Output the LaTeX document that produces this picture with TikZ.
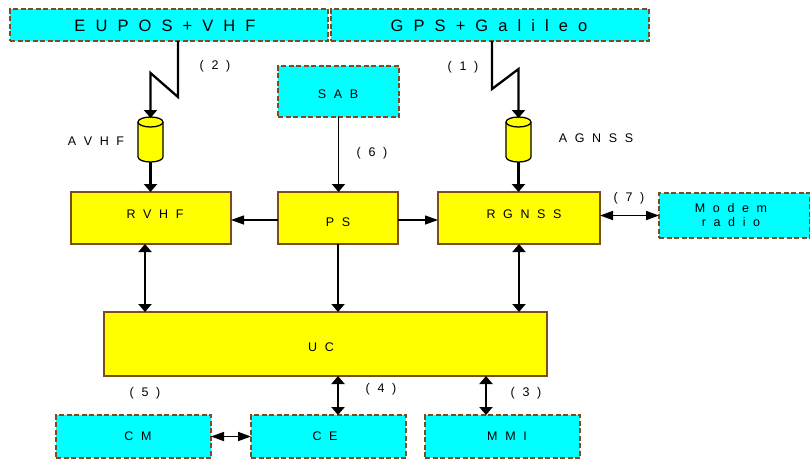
\documentclass[tikz,border=0pt]{standalone}
\usepackage{fontspec}
\setmainfont[WordSpace=2.2]{Liberation Sans}
\usetikzlibrary{arrows.meta}
\definecolor{boxedge}{RGB}{127,74,30}
\definecolor{unityellow}{RGB}{255,255,0}
\definecolor{extcyan}{RGB}{0,255,255}
\newcommand{\lbl}[3]{\raisebox{#2}[0pt][0pt]{\makebox[0pt]{\hspace*{#1}#3}}}
\newcommand{\drawcan}[1]{%
  \draw[canline,fill=unityellow] ([yshift=-5pt]#1.north west) -- ([yshift=5pt]#1.south west)
    arc[start angle=180,end angle=360,x radius=12.5pt,y radius=5pt]
    -- ([yshift=-5pt]#1.north east)
    arc[start angle=0,end angle=180,x radius=12.5pt,y radius=5pt] -- cycle;
  \draw[canline] ([yshift=-5pt]#1.north west)
    arc[start angle=180,end angle=360,x radius=12.5pt,y radius=5pt];
}
\tikzset{
  smalltxt/.style={font=\fontsize{12.5}{15}\selectfont},
  bigtxt/.style={font=\fontsize{16.5}{19}\selectfont},
  unitbox/.style={rectangle,draw=boxedge,line width=1.4pt,fill=unityellow,outer sep=0pt,inner sep=0pt,smalltxt},
  extbox/.style={rectangle,draw=boxedge,line width=1.4pt,dash pattern=on 5pt off 2.5pt,fill=extcyan,outer sep=0pt,inner sep=0pt,smalltxt},
  antenna/.style={rectangle,minimum width=25pt,minimum height=45pt,inner sep=0pt,outer sep=0pt},
  canline/.style={draw=black,line width=1.3pt,line join=round},
  heavy/.style={line width=2.3pt,-{Triangle[length=8pt,width=13pt]}},
  heavyboth/.style={line width=2.3pt,{Triangle[length=8pt,width=13pt]}-{Triangle[length=8pt,width=13pt]}},
  thinarrow/.style={line width=1.7pt,-{Triangle[length=8pt,width=13pt]}},
  sidearrow/.style={line width=1.3pt,-{Triangle[length=13pt,width=9pt]}},
  sideboth/.style={line width=1.7pt,{Triangle[length=13pt,width=9pt]}-{Triangle[length=13pt,width=9pt]}}
}
\begin{document}
\begin{tikzpicture}[x=1pt,y=-1pt,line width=1pt]
\useasboundingbox (0,0) rectangle (810,459);
\node[extbox,bigtxt,minimum width=318pt,minimum height=32pt] (eupos) at (169,25) {\lbl{-8pt}{-6pt}{E U P O S + V H F}};
\node[extbox,bigtxt,minimum width=318pt,minimum height=32pt] (gps) at (490,25) {\lbl{-2pt}{-6pt}{G P S + G a l i l e o}};
\node[extbox,minimum width=121pt,minimum height=51pt] (sab) at (338.5,91.5) {\lbl{-1pt}{-7pt}{S A B}};
\node[unitbox,minimum width=160pt,minimum height=52pt] (rvhf) at (151,218) {\lbl{8pt}{0pt}{R V H F}};
\node[unitbox,minimum width=120pt,minimum height=52pt] (ps) at (338,218) {\lbl{0pt}{-8pt}{P S}};
\node[unitbox,minimum width=162pt,minimum height=52pt] (rgnss) at (519,218) {\lbl{10pt}{0pt}{R G N S S}};
\node[extbox,minimum width=151pt,minimum height=45pt] (modem) at (734.5,215.5) {\lbl{-7pt}{-11pt}{\shortstack{M o d e m\\[2pt]r a d i o}}};
\node[unitbox,minimum width=443pt,minimum height=64pt] (uc) at (325.5,344) {\lbl{-9pt}{-7pt}{U C}};
\node[extbox,minimum width=155pt,minimum height=43pt] (cm) at (133.5,436.5) {\lbl{9pt}{-4pt}{C M}};
\node[extbox,minimum width=155pt,minimum height=43pt] (ce) at (328.5,436.5) {\lbl{-7pt}{-4pt}{C E}};
\node[extbox,minimum width=155pt,minimum height=43pt] (mmi) at (502.5,436.5) {\lbl{9pt}{-4pt}{M M I}};
\node[antenna] (avhf) at (150.5,139.5) {};
\node[antenna] (agnss) at (518.5,139.5) {};
\drawcan{avhf}
\drawcan{agnss}
\node[smalltxt] (n2) at (215,66) {( 2 )};
\node[smalltxt] (n6) at (372,153) {( 6 )};
\node[smalltxt] (n1) at (463,67) {( 1 )};
\node[smalltxt] (n7) at (629,198) {( 7 )};
\node[smalltxt] (n5) at (145,393) {( 5 )};
\node[smalltxt] (n4) at (381,389) {( 4 )};
\node[smalltxt] (n3) at (526,393) {( 3 )};
\node[smalltxt] (avhflabel) at (96,141) {A V H F};
\node[smalltxt] (agnsslabel) at (596,138) {A G N S S};
\coordinate (zig2a) at (178,97);
\coordinate (zig2b) at (150.5,73);
\coordinate (zig1a) at (492,89);
\coordinate (zig1b) at (518.5,69);
\draw[heavy] (zig2a |- eupos.south) -- (zig2a) -- (zig2b) -- ([yshift=-1pt]avhf.north);
\draw[heavy] (zig1a |- gps.south) -- (zig1a) -- (zig1b) -- ([yshift=-1pt]agnss.north);
\draw[heavy] (avhf.south) -- (avhf.south |- rvhf.north);
\draw[heavy] (agnss.south) -- (agnss.south |- rgnss.north);
\draw[thinarrow] (sab.south) -- (sab.south |- ps.north);
\draw[sidearrow] ([yshift=-2pt]ps.west) -- ([yshift=-2pt]ps.west -| rvhf.east);
\draw[sidearrow] ([yshift=-2pt]ps.east) -- ([yshift=-2pt]ps.east -| rgnss.west);
\draw[sideboth] (rgnss.east |- modem.west) -- (modem.west);
\draw[heavyboth] ([xshift=-6pt]rvhf.south) coordinate (rvhfout) -- (rvhfout |- uc.north);
\draw[thinarrow] (ps.south) -- (ps.south |- uc.north);
\draw[heavyboth] (rgnss.south) -- (rgnss.south |- uc.north);
\draw[heavyboth] (ce.north -| ps.south) -- (ps.south |- uc.south);
\draw[heavyboth] ([xshift=-16.5pt]mmi.north) coordinate (mmiin) -- (mmiin |- uc.south);
\draw[sideboth] (cm.east) -- (ce.west);
\end{tikzpicture}
\end{document}
